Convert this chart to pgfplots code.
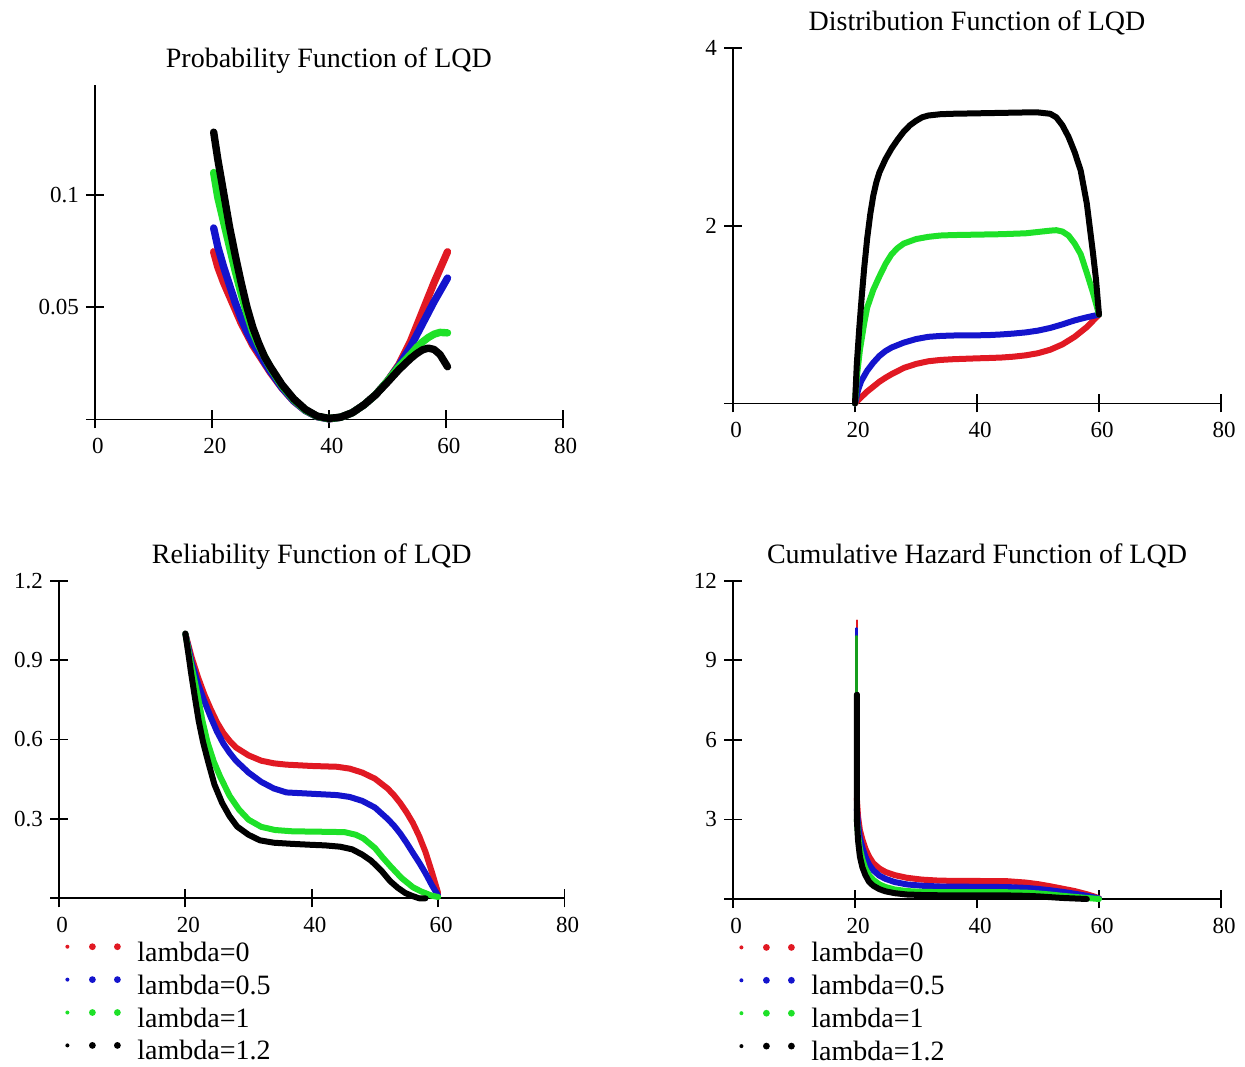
\documentclass[border=0pt]{standalone}
\usepackage{fontspec}
\setmainfont{Liberation Serif}
\usepackage{pgfplots}
\pgfplotsset{compat=1.18}
\definecolor{cR}{RGB}{225,25,35}
\definecolor{cB}{RGB}{20,20,205}
\definecolor{cG}{RGB}{30,225,40}
\pgfplotsset{
 mc/.style={
  scale only axis,
  axis lines=left,
  axis line style={-, line width=0.9pt},
  xmin=0, xmax=80, ymin=0,
  xtick={0,20,40,60,80},
  xticklabels={0,20,40,60,80},
  tick align=center,
  major tick length=9pt,
  tick style={line width=0.9pt, black},
  ticklabel style={font=\fontsize{11.5}{13}\selectfont},
  xticklabel style={yshift=-1.5pt, xshift=1.5pt},
  /pgf/number format/assume math mode=true,
  clip=false,
  title style={font=\fontsize{14}{16}\selectfont, at={(0.5,1)}, anchor=base, yshift=2.5pt},
  every axis plot/.append style={line width=3pt, no markers, line join=round, line cap=round},
  legend cell align=left,
  legend style={draw=none, fill=none, at={(0,0)}, anchor=north west, yshift=-18pt, xshift=0pt,
     font=\fontsize{14}{16}\selectfont, row sep=1.2pt,
     nodes={inner sep=1pt, text height=9.5pt, text depth=3pt}},
  legend image code/.code={
     \fill[##1, draw=none] (0pt,4pt) circle (1pt);
     \fill[##1, draw=none] (12.5pt,4pt) circle (1.7pt);
     \fill[##1, draw=none] (25pt,4pt) circle (1.7pt);
     \path[draw=none, fill=none] (-1pt,0pt) rectangle (34pt,8pt);
  },
 }
}
\begin{document}
\begin{tikzpicture}
\useasboundingbox (0,0) rectangle (622.5pt,533pt);
% ---------- Panel 1
\begin{axis}[mc, at={(47.5pt,323.25pt)}, anchor=south west,
  width=233.85pt, height=167.25pt, ymax=0.149,
  ytick={0,0.05,0.1}, yticklabels={,0.05,0.1},
  every axis plot/.append style={line width=3.7pt},
  title={Probability Function of LQD}]
\addplot[cR] coordinates {(20.3,0.0747) (21,0.068) (22,0.061) (23,0.055) (24,0.049) (25,0.043) (26,0.038) (27,0.033) (28,0.029) (29,0.025) (30,0.021) (32,0.0140) (34,0.0082) (36,0.0040) (38,0.0013) (40,0.0003) (42,0.0010) (44,0.0030) (46,0.0065) (48,0.0110) (50,0.0170) (52,0.0245) (54,0.0350) (56,0.0480) (58,0.0610) (60.3,0.0747)};
\addplot[cB] coordinates {(20.3,0.0853) (21,0.077) (22,0.068) (23,0.060) (24,0.052) (25,0.045) (26,0.039) (27,0.034) (28,0.030) (29,0.0255) (30,0.0215) (32,0.0142) (34,0.0083) (36,0.0040) (38,0.0013) (40,0.0003) (42,0.0010) (44,0.0030) (46,0.0065) (48,0.0110) (50,0.0170) (52,0.0240) (54,0.0325) (56,0.0425) (58,0.0525) (60.3,0.0630)};
\addplot[cG] coordinates {(20.3,0.110) (21,0.099) (22,0.088) (23,0.077) (24,0.066) (25,0.056) (26,0.047) (27,0.039) (28,0.033) (29,0.028) (30,0.023) (32,0.0150) (34,0.0088) (36,0.0042) (38,0.0014) (40,0.0004) (42,0.0010) (44,0.0030) (46,0.0065) (48,0.0110) (50,0.0170) (52,0.0235) (54,0.0290) (55,0.0320) (56,0.0345) (57,0.0365) (58,0.0380) (59,0.0388) (60.3,0.0386)};
\addplot[black] coordinates {(20.3,0.128) (21,0.116) (22,0.101) (23,0.086) (24,0.073) (25,0.061) (26,0.050) (27,0.041) (28,0.034) (29,0.028) (30,0.0235) (32,0.0155) (34,0.0092) (36,0.0045) (38,0.0015) (40,0.0005) (42,0.0010) (44,0.0030) (46,0.0065) (48,0.0110) (50,0.0165) (52,0.0222) (54,0.0272) (55,0.0293) (56,0.0310) (57,0.0318) (58,0.0312) (59,0.0290) (60.3,0.0235)};
\end{axis}
% ---------- Panel 2
\begin{axis}[mc, at={(366.5pt,331.25pt)}, anchor=south west,
  width=244pt, height=177.75pt, ymax=4,
  ytick={0,2,4}, yticklabels={,2,4},
  title={Distribution Function of LQD}]
\addplot[cR] coordinates {(20,0) (21,0.07) (22,0.135) (23,0.19) (24,0.245) (25,0.29) (26,0.33) (28,0.40) (30,0.445) (32,0.475) (34,0.49) (36,0.498) (38,0.503) (40,0.508) (42,0.512) (44,0.517) (46,0.527) (48,0.542) (50,0.566) (52,0.605) (54,0.665) (56,0.75) (58,0.86) (60,1.0)};
\addplot[cB] coordinates {(20,0) (20.5,0.15) (21,0.25) (22,0.37) (23,0.46) (24,0.535) (25,0.59) (26,0.63) (28,0.685) (30,0.725) (32,0.75) (34,0.76) (36,0.765) (40,0.767) (42,0.77) (44,0.777) (46,0.787) (48,0.80) (50,0.82) (52,0.85) (54,0.89) (56,0.935) (58,0.97) (60,1.0)};
\addplot[cG] coordinates {(20,0) (20.3,0.3) (20.8,0.6) (21.5,0.9) (22,1.08) (23,1.28) (24,1.43) (25,1.57) (26,1.68) (27,1.75) (28,1.80) (30,1.85) (32,1.875) (34,1.89) (36,1.895) (40,1.90) (44,1.905) (48,1.915) (50,1.93) (52,1.945) (53,1.95) (54,1.935) (55,1.89) (56,1.80) (57,1.68) (58,1.47) (59,1.25) (60,1.0)};
\addplot[black] coordinates {(20,0) (20.3,0.45) (20.7,0.85) (21.1,1.2) (21.5,1.52) (22,1.86) (22.5,2.13) (23,2.34) (23.5,2.49) (24,2.6) (25,2.75) (26,2.87) (27,2.97) (28,3.06) (29,3.13) (30,3.18) (31,3.22) (32,3.24) (34,3.255) (36,3.26) (40,3.265) (44,3.27) (48,3.275) (50,3.275) (52,3.26) (53,3.22) (54,3.13) (55,3.0) (56,2.83) (57,2.62) (58,2.25) (59,1.7) (59.5,1.4) (60,1.0)};
\end{axis}
% ---------- Panel 3
\begin{axis}[mc, at={(29.5pt,83.85pt)}, anchor=south west,
  width=252.75pt, height=158.8pt, ymax=1.2,
  ytick={0,0.3,0.6,0.9,1.2}, yticklabels={,0.3,0.6,0.9,1.2},
  title={Reliability Function of LQD}]
\addplot[cR] coordinates {(20,1.0) (21,0.91) (22,0.835) (23,0.77) (24,0.715) (25,0.665) (26,0.625) (27,0.595) (28,0.57) (30,0.54) (32,0.52) (34,0.51) (36,0.505) (40,0.50) (44,0.497) (46,0.49) (48,0.475) (50,0.452) (52,0.415) (53,0.39) (54,0.36) (55,0.325) (56,0.285) (57,0.235) (58,0.175) (59,0.1) (60,0.02)};
\addlegendentry{lambda=0}
\addplot[cB] coordinates {(20,1.0) (21,0.89) (21.5,0.852) (22,0.81) (23,0.745) (24,0.685) (25,0.63) (26,0.585) (27,0.55) (28,0.52) (30,0.475) (32,0.44) (34,0.415) (36,0.4) (40,0.395) (44,0.39) (46,0.383) (48,0.368) (50,0.343) (52,0.3) (53,0.275) (54,0.245) (55,0.21) (56,0.172) (57,0.135) (58,0.095) (59,0.05) (60,0.01)};
\addlegendentry{lambda=0.5}
\addplot[cG] coordinates {(20,1.0) (20.6,0.92) (21.2,0.852) (22,0.76) (22.7,0.671) (23.5,0.59) (24.5,0.516) (25.5,0.46) (27,0.387) (28.5,0.335) (30,0.297) (32,0.27) (34.2,0.258) (37,0.253) (40.3,0.252) (45.2,0.25) (47,0.24) (48.2,0.226) (50,0.19) (51.2,0.155) (52.5,0.12) (54.2,0.077) (56,0.042) (57.3,0.026) (59,0.01) (60,0.005)};
\addlegendentry{lambda=1}
\addplot[black] coordinates {(20,1.0) (20.5,0.92) (20.9,0.852) (21.5,0.76) (22.1,0.671) (22.8,0.59) (23.6,0.516) (24.6,0.43) (25.8,0.361) (27,0.31) (28.2,0.271) (30,0.24) (31.8,0.219) (34,0.21) (36.7,0.206) (40,0.202) (42.1,0.2) (44.5,0.195) (46.4,0.185) (48,0.165) (49.4,0.142) (51,0.105) (52.4,0.065) (53.6,0.04) (54.8,0.02) (56,0.008) (57,0.0) (58,0.0)};
\addlegendentry{lambda=1.2}
\end{axis}
% ---------- Panel 4
\begin{axis}[mc, at={(366.5pt,83.5pt)}, anchor=south west,
  width=244pt, height=159.15pt, ymax=12,
  ytick={0,3,6,9,12}, yticklabels={,3,6,9,12},
  title={Cumulative Hazard Function of LQD}]
\addplot[cR] coordinates {(20.3,3.8) (20.5,3.1) (20.8,2.6) (21.2,2.25) (21.7,1.9) (22.3,1.6) (23,1.35) (24,1.15) (25,1.02) (26.5,0.9) (28.5,0.8) (31,0.73) (34,0.69) (40,0.68) (45,0.67) (48,0.62) (50,0.56) (52,0.48) (54,0.39) (56,0.3) (58,0.18) (59,0.11) (60,0.03)};
\addlegendentry{lambda=0}
\addplot[cB] coordinates {(20.3,3.4) (20.5,2.8) (20.8,2.3) (21.2,1.95) (21.7,1.6) (22.3,1.3) (23,1.08) (24,0.88) (25,0.76) (26.5,0.64) (28.5,0.55) (31,0.5) (34,0.47) (40,0.46) (45,0.45) (48,0.42) (50,0.38) (52,0.33) (54,0.27) (56,0.2) (58,0.12) (59,0.07) (60,0.02)};
\addlegendentry{lambda=0.5}
\addplot[cG] coordinates {(20.3,3.0) (20.5,2.4) (20.8,1.9) (21.2,1.5) (21.7,1.15) (22.3,0.9) (23,0.72) (24,0.55) (25,0.45) (26.5,0.36) (28.5,0.3) (31,0.27) (34,0.26) (40,0.26) (45,0.255) (48,0.24) (50,0.21) (52,0.17) (54,0.12) (56,0.08) (58,0.04) (60,0.0)};
\addlegendentry{lambda=1}
\addplot[black] coordinates {(20.3,7.7) (20.3,3.0) (20.5,2.2) (20.8,1.6) (21.2,1.2) (21.7,0.9) (22.3,0.65) (23,0.5) (24,0.37) (25,0.29) (26.5,0.22) (28.5,0.17) (31,0.15) (34,0.14) (40,0.14) (45,0.135) (48,0.12) (50,0.1) (52,0.07) (54,0.04) (56,0.02) (58,0.0)};
\addlegendentry{lambda=1.2}
\addplot[cR, line width=1.2pt, forget plot] coordinates {(20.3,10.5) (20.3,3.8)};
\addplot[cB, line width=1.4pt, forget plot] coordinates {(20.3,10.2) (20.3,3.4)};
\addplot[cG!70!black, line width=1.6pt, forget plot] coordinates {(20.3,9.9) (20.3,3.0)};
\addplot[black, line width=3pt, forget plot] coordinates {(20.3,7.7) (20.3,3.0)};
\end{axis}
\end{tikzpicture}
\end{document}
